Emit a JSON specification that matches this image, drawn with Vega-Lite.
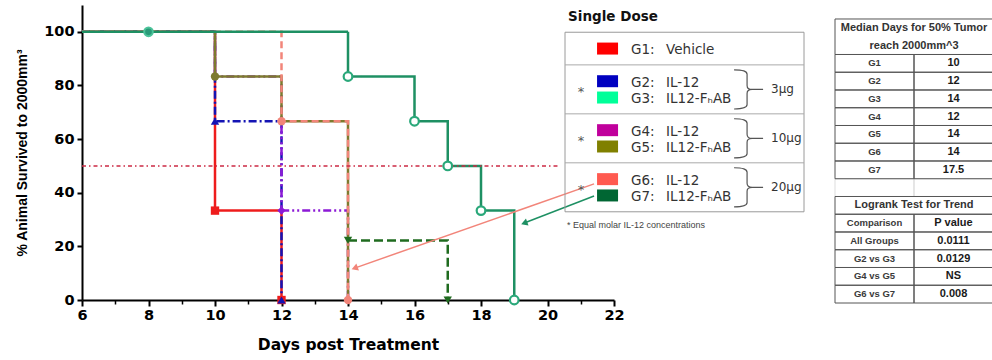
{
  "$schema": "https://vega.github.io/schema/vega-lite/v6.json",
  "background": "white",
  "padding": {"left": 15, "top": 5, "right": 0, "bottom": 0},
  "spacing": 29,
  "config": {"view": {"stroke": null}},
  "resolve": {"scale": {"x": "independent", "y": "independent", "color": "independent", "shape": "independent", "strokeDash": "independent"}},
  "datasets": {
    "curves": [
      {"series": "G1", "day": 6, "pct": 100}, {"series": "G1", "day": 10, "pct": 33.33}, {"series": "G1", "day": 12, "pct": 0},
      {"series": "G2", "day": 6, "pct": 100}, {"series": "G2", "day": 10, "pct": 66.67}, {"series": "G2", "day": 12, "pct": 0},
      {"series": "G4", "day": 6, "pct": 100}, {"series": "G4", "day": 10, "pct": 83.33}, {"series": "G4", "day": 12, "pct": 33.33}, {"series": "G4", "day": 14, "pct": 0},
      {"series": "G3", "day": 14, "pct": 22.22}, {"series": "G3", "day": 17, "pct": 0},
      {"series": "G5", "day": 6, "pct": 100}, {"series": "G5", "day": 10, "pct": 83.33}, {"series": "G5", "day": 12, "pct": 66.67}, {"series": "G5", "day": 14, "pct": 0},
      {"series": "G6", "day": 6, "pct": 100}, {"series": "G6", "day": 12, "pct": 66.67}, {"series": "G6", "day": 14, "pct": 0},
      {"series": "G7", "day": 6, "pct": 100}, {"series": "G7", "day": 14, "pct": 83.33}, {"series": "G7", "day": 16, "pct": 66.67}, {"series": "G7", "day": 17, "pct": 50}, {"series": "G7", "day": 18, "pct": 33.33}, {"series": "G7", "day": 19, "pct": 0}
    ],
    "censor": [
      {"series": "G5", "day": 10, "pct": 83.33},
      {"series": "G6", "day": 12, "pct": 66.67}, {"series": "G6", "day": 14, "pct": 0},
      {"series": "G4", "day": 12, "pct": 33.33},
      {"series": "G1", "day": 10, "pct": 33.33}, {"series": "G1", "day": 12, "pct": 0},
      {"series": "G2", "day": 10, "pct": 66.67}, {"series": "G2", "day": 12, "pct": 0},
      {"series": "G3", "day": 14, "pct": 22.22}, {"series": "G3", "day": 17, "pct": 0}
    ],
    "censorG7": [
      {"series": "G7", "day": 14, "pct": 83.33}, {"series": "G7", "day": 16, "pct": 66.67},
      {"series": "G7", "day": 17, "pct": 50}, {"series": "G7", "day": 18, "pct": 33.33}, {"series": "G7", "day": 19, "pct": 0}
    ],
    "start": [
      {"series": "G3", "day": 8, "pct": 100}
    ],
    "arrows": [
      {"series": "G6", "x": 21.4, "y": 43.3, "x2": 14.2, "y2": 11.9},
      {"series": "G7", "x": 21.4, "y": 38.8, "x2": 19.3, "y2": 28.7}
    ],
    "legendItems": [
      {"grp": "G1", "code": "G1:", "name": "Vehicle"},
      {"grp": "G2", "code": "G2:", "name": "IL-12"},
      {"grp": "G3", "code": "G3:", "name": "IL12-FₕAB"},
      {"grp": "G4", "code": "G4:", "name": "IL-12"},
      {"grp": "G5", "code": "G5:", "name": "IL12-FₕAB"},
      {"grp": "G6", "code": "G6:", "name": "IL-12"},
      {"grp": "G7", "code": "G7:", "name": "IL12-FₕAB"}
    ],
    "doses": [
      {"first": "G2", "dose": "3µg"},
      {"first": "G4", "dose": "10µg"},
      {"first": "G6", "dose": "20µg"}
    ],
    "table": [
      {"row": "h1a", "col": "all", "text": "Median Days for 50% Tumor"},
      {"row": "h1b", "col": "all", "text": "reach 2000mm^3"},
      {"row": "G1", "col": "L", "text": "G1"}, {"row": "G1", "col": "R", "text": "10"},
      {"row": "G2", "col": "L", "text": "G2"}, {"row": "G2", "col": "R", "text": "12"},
      {"row": "G3", "col": "L", "text": "G3"}, {"row": "G3", "col": "R", "text": "14"},
      {"row": "G4", "col": "L", "text": "G4"}, {"row": "G4", "col": "R", "text": "12"},
      {"row": "G5", "col": "L", "text": "G5"}, {"row": "G5", "col": "R", "text": "14"},
      {"row": "G6", "col": "L", "text": "G6"}, {"row": "G6", "col": "R", "text": "14"},
      {"row": "G7", "col": "L", "text": "G7"}, {"row": "G7", "col": "R", "text": "17.5"},
      {"row": "gap", "col": "L", "text": ""}, {"row": "gap", "col": "R", "text": ""},
      {"row": "h2", "col": "all", "text": "Logrank Test for Trend"},
      {"row": "cmp", "col": "L", "text": "Comparison"}, {"row": "cmp", "col": "R", "text": "P value"},
      {"row": "p1", "col": "L", "text": "All Groups"}, {"row": "p1", "col": "R", "text": "0.0111"},
      {"row": "p2", "col": "L", "text": "G2 vs G3"}, {"row": "p2", "col": "R", "text": "0.0129"},
      {"row": "p3", "col": "L", "text": "G4 vs G5"}, {"row": "p3", "col": "R", "text": "NS"},
      {"row": "p4", "col": "L", "text": "G6 vs G7"}, {"row": "p4", "col": "R", "text": "0.008"}
    ],
    "spans": [
      {"from": "h1a", "to": "h1b"},
      {"from": "h2", "to": "h2"}
    ]
  },
  "hconcat": [
    {
      "width": 532,
      "height": 295,
      "resolve": {"scale": {"x": "independent", "y": "independent", "color": "independent"}, "axis": {"x": "independent", "y": "independent"}},
      "layer": [
        {
          "resolve": {"axis": {"x": "independent"}},
          "layer": [
            {
              "data": {"name": "curves"},
              "mark": {"type": "line", "interpolate": "step-after", "strokeWidth": 2.5},
              "encoding": {
                "x": {
                  "field": "day", "type": "quantitative",
                  "scale": {"domain": [6, 22], "nice": false, "zero": false},
                  "axis": {
                    "orient": "bottom", "values": [6, 8, 10, 12, 14, 16, 18, 20, 22], "grid": false, "labelFlush": false,
                    "domainColor": "black", "domainWidth": 2, "tickColor": "black", "tickWidth": 2, "tickSize": 6,
                    "labelFont": "DejaVu Sans", "labelFontWeight": "bold", "labelFontSize": 14.5, "labelColor": "black", "labelPadding": 2,
                    "title": "Days post Treatment", "titleFont": "DejaVu Sans", "titleFontWeight": "bold", "titleFontSize": 15.5, "titleColor": "black", "titlePadding": 16
                  }
                },
                "y": {
                  "field": "pct", "type": "quantitative",
                  "scale": {"domain": [0, 110], "nice": false},
                  "axis": {
                    "orient": "left", "values": [0, 20, 40, 60, 80, 100], "grid": false,
                    "domainColor": "black", "domainWidth": 2, "tickColor": "black", "tickWidth": 2, "tickSize": 5,
                    "labelFont": "DejaVu Sans", "labelFontWeight": "bold", "labelFontSize": 14.5, "labelColor": "black", "labelPadding": 3,
                    "title": "% Animal Survived to 2000mm³", "titleFont": "Liberation Sans", "titleFontWeight": "bold", "titleFontSize": 14, "titleColor": "black", "titlePadding": 14
                  }
                },
                "color": {
                  "field": "series", "type": "nominal", "legend": null,
                  "scale": {"domain": ["G1", "G2", "G3", "G4", "G5", "G6", "G7"], "range": ["#ee1c1c", "#1414b4", "#1f6b1f", "#8c1ad6", "#7d7a2e", "#f2857a", "#1e9063"]}
                },
                "strokeDash": {
                  "field": "series", "type": "nominal", "legend": null,
                  "scale": {"domain": ["G1", "G2", "G3", "G4", "G5", "G6", "G7"], "range": [[1, 0], [8, 3, 2, 3], [9, 4], [8, 3, 2, 3, 2, 3], [1, 0], [7, 4], [1, 0]]}
                }
              }
            },
            {
              "data": {"values": [{}]},
              "mark": {"type": "rule", "color": "#cc2a44", "strokeWidth": 1.5, "strokeDash": [4, 3, 1.5, 3]},
              "encoding": {
                "x": {
                  "datum": 6, "type": "quantitative",
                  "axis": {"orient": "bottom", "values": [7, 9, 11, 13, 15, 17, 19, 21], "labels": false, "domain": false, "grid": false, "tickColor": "black", "tickWidth": 1.5, "tickSize": 4, "title": null}
                },
                "x2": {"datum": 20.3},
                "y": {"datum": 50, "type": "quantitative"}
              }
            },
            {
              "data": {"name": "arrows"},
              "mark": {"type": "rule", "strokeWidth": 1.5},
              "encoding": {
                "x": {"field": "x", "type": "quantitative", "axis": null},
                "y": {"field": "y", "type": "quantitative"},
                "x2": {"field": "x2"},
                "y2": {"field": "y2"},
                "color": {"field": "series", "type": "nominal", "legend": null}
              }
            },
            {
              "data": {"name": "arrows"},
              "mark": {"type": "point", "shape": "triangle-left", "angle": 340, "size": 55, "filled": true, "opacity": 1},
              "encoding": {
                "x": {"field": "x2", "type": "quantitative", "axis": null},
                "y": {"field": "y2", "type": "quantitative"},
                "color": {"field": "series", "type": "nominal", "legend": null}
              }
            },
            {
              "data": {"name": "censor"},
              "mark": {"type": "point", "filled": true, "size": 70, "opacity": 1},
              "encoding": {
                "x": {"field": "day", "type": "quantitative", "axis": null},
                "y": {"field": "pct", "type": "quantitative"},
                "color": {"field": "series", "type": "nominal", "legend": null},
                "shape": {
                  "field": "series", "type": "nominal", "legend": null,
                  "scale": {"domain": ["G1", "G2", "G3", "G4", "G5", "G6"], "range": ["square", "triangle-up", "triangle-down", "diamond", "circle", "circle"]}
                }
              }
            },
            {
              "data": {"name": "censorG7"},
              "mark": {"type": "point", "shape": "circle", "size": 75, "fill": "white", "stroke": "#2aa87a", "strokeWidth": 2.2, "opacity": 1},
              "encoding": {
                "x": {"field": "day", "type": "quantitative", "axis": null},
                "y": {"field": "pct", "type": "quantitative"}
              }
            },
            {
              "data": {"name": "start"},
              "mark": {"type": "point", "shape": "circle", "size": 75, "fill": "#2a9a78", "stroke": "#4cc39a", "strokeWidth": 2, "opacity": 1},
              "encoding": {
                "x": {"field": "day", "type": "quantitative", "axis": null},
                "y": {"field": "pct", "type": "quantitative"}
              }
            }
          ]
        },
        {
          "layer": [
            {
              "data": {"values": [{}]},
              "mark": {"type": "rect", "filled": false, "color": "#9a9a9a", "strokeWidth": 1},
              "encoding": {
                "x": {"datum": 0, "type": "quantitative", "scale": {"domain": [-202.1, 20.5], "nice": false, "zero": false}, "axis": null},
                "x2": {"datum": 100},
                "y": {
                  "datum": "top", "type": "nominal",
                  "scale": {"type": "point", "domain": ["title", "top", "G1", "d1", "G2", "G3", "d2", "G4", "G5", "d3", "G6", "G7", "bottom", "foot", "spare1", "spare2", "spare3", "spare4"], "padding": 0.537, "align": 0.623},
                  "axis": null
                },
                "y2": {"datum": "bottom"}
              }
            },
            {
              "data": {"values": [{"sep": "d1"}, {"sep": "d2"}, {"sep": "d3"}]},
              "mark": {"type": "rule", "color": "#aaaaaa", "strokeWidth": 1},
              "encoding": {
                "x": {"datum": 0, "type": "quantitative"},
                "x2": {"datum": 100},
                "y": {"field": "sep", "type": "nominal"}
              }
            },
            {
              "data": {"name": "legendItems"},
              "mark": {"type": "point", "shape": "M-1,-0.571H1V0.571H-1Z", "size": 441, "filled": true, "opacity": 1},
              "encoding": {
                "x": {"datum": 17.8, "type": "quantitative"},
                "y": {"field": "grp", "type": "nominal"},
                "color": {
                  "field": "grp", "type": "nominal", "legend": null,
                  "scale": {"domain": ["G1", "G2", "G3", "G4", "G5", "G6", "G7"], "range": ["#ff0000", "#0000c0", "#00ff99", "#c0009c", "#808000", "#ff5a50", "#006633"]}
                }
              }
            },
            {
              "data": {"name": "legendItems"},
              "mark": {"type": "text", "align": "left", "baseline": "middle", "dy": 1.5, "font": "DejaVu Sans", "fontSize": 13.5, "color": "#333333"},
              "encoding": {
                "x": {"datum": 27.6, "type": "quantitative"},
                "y": {"field": "grp", "type": "nominal"},
                "text": {"field": "code"}
              }
            },
            {
              "data": {"name": "legendItems"},
              "mark": {"type": "text", "align": "left", "baseline": "middle", "dy": 1.5, "font": "DejaVu Sans", "fontSize": 13.5, "color": "#333333"},
              "encoding": {
                "x": {"datum": 42.3, "type": "quantitative"},
                "y": {"field": "grp", "type": "nominal"},
                "text": {"field": "name"}
              }
            },
            {
              "data": {"name": "doses"},
              "mark": {"type": "text", "text": "*", "align": "center", "baseline": "middle", "dy": 11, "font": "DejaVu Sans", "fontSize": 13, "color": "#555555"},
              "encoding": {
                "x": {"datum": 6.7, "type": "quantitative"},
                "y": {"field": "first", "type": "nominal"}
              }
            },
            {
              "data": {"name": "doses"},
              "mark": {"type": "point", "shape": "M-0.7,-0.57Q-0.05,-0.57,-0.05,-0.35L-0.05,0.21Q-0.05,0.41,0.2,0.41Q-0.05,0.41,-0.05,0.61L-0.05,1.17Q-0.05,1.39,-0.7,1.39M0.2,0.41L0.75,0.41", "size": 1600, "filled": false, "color": "#555555", "strokeWidth": 1.2, "opacity": 1},
              "encoding": {
                "x": {"datum": 76.6, "type": "quantitative"},
                "y": {"field": "first", "type": "nominal"}
              }
            },
            {
              "data": {"name": "doses"},
              "mark": {"type": "text", "align": "left", "baseline": "middle", "dy": 8.2, "font": "DejaVu Sans", "fontSize": 12, "color": "#333333"},
              "encoding": {
                "x": {"datum": 86.2, "type": "quantitative"},
                "y": {"field": "first", "type": "nominal"},
                "text": {"field": "dose"}
              }
            },
            {
              "data": {"values": [{}]},
              "mark": {"type": "text", "text": "Single Dose", "align": "left", "baseline": "middle", "dy": 1.5, "font": "DejaVu Sans", "fontWeight": "bold", "fontSize": 13.5, "color": "#111111"},
              "encoding": {
                "x": {"datum": 1.3, "type": "quantitative"},
                "y": {"datum": "title", "type": "nominal"}
              }
            },
            {
              "data": {"values": [{}]},
              "mark": {"type": "text", "text": "* Equal molar IL-12 concentrations", "align": "left", "baseline": "middle", "dy": -3, "font": "Liberation Sans", "fontSize": 9, "color": "#444444"},
              "encoding": {
                "x": {"datum": 0.8, "type": "quantitative"},
                "y": {"datum": "foot", "type": "nominal"}
              }
            }
          ]
        }
      ]
    },
    {
      "width": 158,
      "height": 298,
      "layer": [
        {
          "data": {"name": "table"},
          "transform": [{"filter": "datum.row == 'gap'"}],
          "mark": {"type": "rect", "filled": false, "color": "#dddddd", "strokeWidth": 1},
          "encoding": {
            "x": {"field": "col", "type": "nominal", "scale": {"type": "band", "domain": ["L", "R"], "paddingInner": 0, "paddingOuter": 0}, "axis": null},
            "y": {
              "field": "row", "type": "nominal", "axis": null,
              "scale": {"type": "band", "domain": ["h1a", "h1b", "G1", "G2", "G3", "G4", "G5", "G6", "G7", "gap", "h2", "cmp", "p1", "p2", "p3", "p4"], "paddingInner": 0, "paddingOuter": 0.394, "align": 1}
            }
          }
        },
        {
          "data": {"name": "table"},
          "transform": [{"filter": "datum.row != 'gap' && datum.col != 'all'"}],
          "mark": {"type": "rect", "filled": false, "color": "#555555", "strokeWidth": 1},
          "encoding": {
            "x": {"field": "col", "type": "nominal"},
            "y": {"field": "row", "type": "nominal"}
          }
        },
        {
          "data": {"name": "spans"},
          "mark": {"type": "rect", "filled": false, "color": "#555555", "strokeWidth": 1},
          "encoding": {
            "y": {"field": "from", "type": "nominal", "bandPosition": 0},
            "y2": {"field": "to", "bandPosition": 1}
          }
        },
        {
          "data": {"name": "table"},
          "transform": [{"filter": "datum.col == 'L'"}],
          "mark": {"type": "text", "align": "center", "baseline": "middle", "font": "Liberation Sans", "fontWeight": "bold", "fontSize": 9.5, "color": "#3a3a3a"},
          "encoding": {
            "x": {"field": "col", "type": "nominal"},
            "y": {"field": "row", "type": "nominal"},
            "text": {"field": "text"}
          }
        },
        {
          "data": {"name": "table"},
          "transform": [{"filter": "datum.col == 'R'"}],
          "mark": {"type": "text", "align": "center", "baseline": "middle", "font": "Liberation Sans", "fontWeight": "bold", "fontSize": 11, "color": "#1a1a1a"},
          "encoding": {
            "x": {"field": "col", "type": "nominal"},
            "y": {"field": "row", "type": "nominal"},
            "text": {"field": "text"}
          }
        },
        {
          "data": {"name": "table"},
          "transform": [{"filter": "datum.col == 'all'"}],
          "mark": {"type": "text", "align": "center", "baseline": "middle", "font": "Liberation Sans", "fontWeight": "bold", "fontSize": 11, "color": "#333333"},
          "encoding": {
            "y": {"field": "row", "type": "nominal"},
            "text": {"field": "text"}
          }
        }
      ]
    }
  ]
}
